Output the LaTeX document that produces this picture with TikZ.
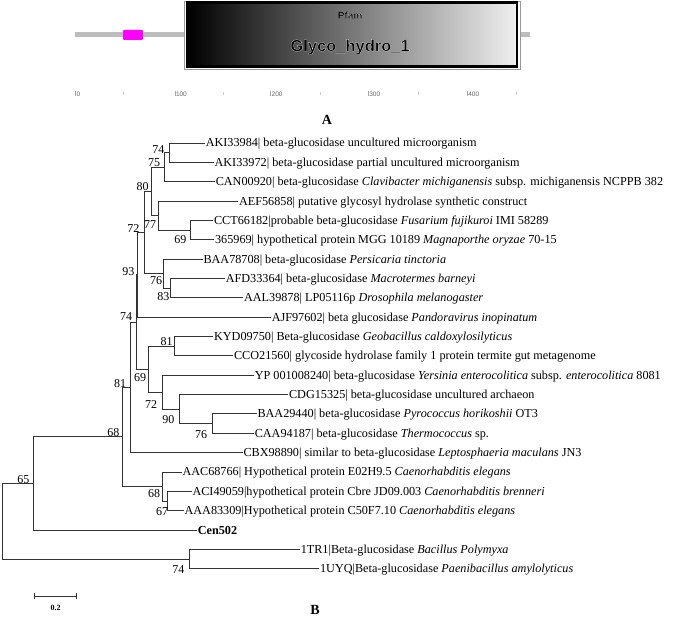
\documentclass[tikz,border=0pt]{standalone}
\usepackage{fontspec}
\setmainfont{Liberation Serif}
\newfontfamily\arialf{Liberation Sans}
\definecolor{treecol}{HTML}{333333}
\definecolor{bargray}{HTML}{BDBDBD}
\definecolor{mag}{HTML}{FF00FF}
\definecolor{axcol}{HTML}{666666}
\newcommand{\outlinedtext}[2]{\special{pdf:literal direct 1 1 1 RG #1 w 2 Tr}#2\special{pdf:literal direct 0 Tr}}
\begin{document}
\begin{tikzpicture}[x=1pt,y=-1pt,
  branch/.style={draw=treecol, line width=0.9pt},
  leaf/.style={anchor=west, inner xsep=0.6pt, inner ysep=0pt, text height=8pt, text depth=0pt, font=\fontsize{12.2}{14}\selectfont, text=black},
  boot/.style={inner sep=0pt, font=\fontsize{12}{14}\selectfont, text=black},
  axlab/.style={inner sep=0pt, anchor=west, font=\arialf\fontsize{6.5}{7}\selectfont, text=axcol},
  majtick/.style={draw=black!35, line width=0.5pt},
  mintick/.style={draw=black!20, line width=0.5pt},
  panel/.style={inner sep=0pt, font=\bfseries\fontsize{14}{16}\selectfont}]
\useasboundingbox (0,0) rectangle (685,628);
\fill[white] (0,0) rectangle (685,628);

% ---------- Panel A: domain architecture ----------
\coordinate (bbL) at (75,35);
\coordinate (bbR) at (530,35);
\draw[bargray, line width=5pt] (bbL) -- (bbR);
\fill[mag, rounded corners=1pt] (123,30) rectangle (143,40);
\draw[fill=white, draw=black!40, line width=0.5pt] (184,0.8) rectangle (520.5,69.5);
\shade[left color=black, right color=white!94!black] (187,3) rectangle (517,66.5);
\draw[black, line width=2.6pt] (187,2.6) rectangle (517,66.5);
\node[text=black, inner sep=0pt, font=\arialf\bfseries\fontsize{10}{11}\selectfont] (pfam) at (350,15) {\outlinedtext{0.06}{Pfam}};
\node[text=black, inner sep=0pt, font=\arialf\bfseries\fontsize{16.5}{18}\selectfont] (glyco) at (350,47) {\outlinedtext{0.2}{Glyco\_hydro\_1}};

% axis ticks and labels
\foreach \x/\t [count=\i] in {75.7/0,175/100,270.7/200,368.3/300,467.3/400}{
  \draw[majtick] (\x,91) -- (\x,96.5);
  \node[axlab] (ax\i) at (\x+0.8,94) {\t};
}
\foreach \x in {123.3,223,320,418.3,516.7}{
  \draw[mintick] (\x,92.5) -- (\x,95);
}
\node[panel] (labA) at (327,120) {A};

% ---------- Panel B: tree ----------
\coordinate (root) at (2,521.3);
\coordinate (n65) at (33.3,483.5);
\coordinate (nout) at (189.5,559.0);
\coordinate (n68) at (122,436.9);
\coordinate (n81) at (130,387.3);
\coordinate (n74m) at (136.3,322.0);
\coordinate (n93) at (137,274.8);
\coordinate (n72u) at (144,232.5);
\coordinate (n80) at (151,191.4);
\coordinate (n75) at (164.3,167.2);
\coordinate (n74t) at (169.3,152.7);
\coordinate (n77) at (158,215.6);
\coordinate (n69t) at (190.7,230.1);
\coordinate (n76u) at (163.3,273.6);
\coordinate (n83) at (170.5,288.1);
\coordinate (n69m) at (148,369.2);
\coordinate (n81k) at (174.2,346.2);
\coordinate (n72y) at (162.3,392.1);
\coordinate (n90) at (179,409.1);
\coordinate (n76b) at (212.3,423.6);
\coordinate (n68c) at (162.3,486.5);
\coordinate (n67) at (167.7,501.0);

\node[leaf] (l1) at (205,143.0) {AKI33984| beta-glucosidase uncultured microorganism};
\node[leaf] (l2) at (213.8,162.35) {AKI33972| beta-glucosidase partial uncultured microorganism};
\node[leaf] (l3) at (215,181.7) {CAN00920| beta-glucosidase \textit{Clavibacter michiganensis} subsp. michiganensis NCPPB 382};
\node[leaf] (l4) at (238.3,201.05) {AEF56858| putative glycosyl hydrolase synthetic construct};
\node[leaf] (l5) at (213.3,220.4) {CCT66182|probable beta-glucosidase \textit{Fusarium fujikuroi} IMI 58289};
\node[leaf] (l6) at (214.3,239.75) {365969| hypothetical protein MGG 10189 \textit{Magnaporthe oryzae} 70-15};
\node[leaf] (l7) at (202.7,259.1) {BAA78708| beta-glucosidase \textit{Persicaria tinctoria}};
\node[leaf] (l8) at (225,278.45) {AFD33364| beta-glucosidase \textit{Macrotermes barneyi}};
\node[leaf] (l9) at (243.3,297.8) {AAL39878| LP05116p \textit{Drosophila melanogaster}};
\node[leaf] (l10) at (271,317.15) {AJF97602| beta glucosidase \textit{Pandoravirus inopinatum}};
\node[leaf] (l11) at (213.3,336.5) {KYD09750| Beta-glucosidase \textit{Geobacillus caldoxylosilyticus}};
\node[leaf] (l12) at (233.3,355.85) {CCO21560| glycoside hydrolase family 1 protein termite gut metagenome};
\node[leaf] (l13) at (254,375.2) {YP 001008240| beta-glucosidase \textit{Yersinia enterocolitica} subsp. \textit{enterocolitica} 8081};
\node[leaf] (l14) at (288.3,394.55) {CDG15325| beta-glucosidase uncultured archaeon};
\node[leaf] (l15) at (256.7,413.9) {BAA29440| beta-glucosidase \textit{Pyrococcus horikoshii} OT3};
\node[leaf] (l16) at (254,433.25) {CAA94187| beta-glucosidase \textit{Thermococcus} sp.};
\node[leaf] (l17) at (242.7,452.6) {CBX98890| similar to beta-glucosidase \textit{Leptosphaeria maculans} JN3};
\node[leaf] (l18) at (181.7,471.95) {AAC68766| Hypothetical protein E02H9.5 \textit{Caenorhabditis elegans}};
\node[leaf] (l19) at (191.7,491.3) {ACI49059|hypothetical protein Cbre JD09.003 \textit{Caenorhabditis brenneri}};
\node[leaf] (l20) at (183.8,510.65) {AAA83309|Hypothetical protein C50F7.10 \textit{Caenorhabditis elegans}};
\node[leaf] (l21) at (197,530.0) {\textbf{Cen502}};
\node[leaf] (l22) at (300,549.35) {1TR1|Beta-glucosidase \textit{Bacillus Polymyxa}};
\node[leaf] (l23) at (319.3,568.7) {1UYQ|Beta-glucosidase \textit{Paenibacillus amylolyticus}};

\draw[branch] (root) |- (n65);  \draw[branch] (root) |- (nout);
\draw[branch] (n65) |- (n68);   \draw[branch] (n65) |- (l21.west);
\draw[branch] (n68) |- (n81);   \draw[branch] (n68) |- (n68c);
\draw[branch] (n81) |- (n74m);  \draw[branch] (n81) |- (l17.west);
\draw[branch] (n74m) |- (n93);  \draw[branch] (n74m) |- (n69m);
\draw[branch] (n93) |- (n72u);  \draw[branch] (n93) |- (l10.west);
\draw[branch] (n72u) |- (n80);  \draw[branch] (n72u) |- (n76u);
\draw[branch] (n80) |- (n75);   \draw[branch] (n80) |- (n77);
\draw[branch] (n75) |- (n74t);  \draw[branch] (n75) |- (l3.west);
\draw[branch] (n74t) |- (l1.west); \draw[branch] (n74t) |- (l2.west);
\draw[branch] (n77) |- (l4.west);  \draw[branch] (n77) |- (n69t);
\draw[branch] (n69t) |- (l5.west); \draw[branch] (n69t) |- (l6.west);
\draw[branch] (n76u) |- (l7.west); \draw[branch] (n76u) |- (n83);
\draw[branch] (n83) |- (l8.west);  \draw[branch] (n83) |- (l9.west);
\draw[branch] (n69m) |- (n81k);  \draw[branch] (n69m) |- (n72y);
\draw[branch] (n81k) |- (l11.west); \draw[branch] (n81k) |- (l12.west);
\draw[branch] (n72y) |- (l13.west); \draw[branch] (n72y) |- (n90);
\draw[branch] (n90) |- (l14.west);  \draw[branch] (n90) |- (n76b);
\draw[branch] (n76b) |- (l15.west); \draw[branch] (n76b) |- (l16.west);
\draw[branch] (n68c) |- (l18.west); \draw[branch] (n68c) |- (n67);
\draw[branch] (n67) |- (l19.west);  \draw[branch] (n67) |- (l20.west);
\draw[branch] (nout) |- (l22.west); \draw[branch] (nout) |- (l23.west);

% bootstrap values
\node[boot] (b1) at (158.3,149.3) {74};
\node[boot] (b2) at (154,162.7) {75};
\node[boot] (b3) at (142.7,186.7) {80};
\node[boot] (b4) at (150,225) {77};
\node[boot] (b5) at (180.3,239.3) {69};
\node[boot] (b6) at (133.3,228.3) {72};
\node[boot] (b7) at (128.3,271.7) {93};
\node[boot] (b8) at (156,281) {76};
\node[boot] (b9) at (163.3,297) {83};
\node[boot] (b10) at (126,316.7) {74};
\node[boot] (b11) at (166.7,341.7) {81};
\node[boot] (b12) at (140,377.3) {69};
\node[boot] (b13) at (151,404.3) {72};
\node[boot] (b14) at (168.3,420) {90};
\node[boot] (b15) at (201,434.3) {76};
\node[boot] (b16) at (120,383.3) {81};
\node[boot] (b17) at (113.3,432.7) {68};
\node[boot] (b18) at (23.3,480) {65};
\node[boot] (b19) at (154.2,494) {68};
\node[boot] (b20) at (162,511.3) {67};
\node[boot] (b21) at (178.3,570) {74};

% scale bar
\coordinate (sb1) at (34.3,596);
\coordinate (sb2) at (76,596);
\draw[treecol, line width=1pt] (sb1) -- (sb2);
\draw[treecol, line width=1pt] ([yshift=3pt]sb1) -- ([yshift=-3pt]sb1);
\draw[treecol, line width=1pt] ([yshift=3pt]sb2) -- ([yshift=-3pt]sb2);
\node[inner sep=0pt, font=\bfseries\fontsize{8}{9}\selectfont] (sblab) at (55.5,608.3) {0.2};

\node[panel] (labB) at (315,610) {B};
\end{tikzpicture}
\end{document}
